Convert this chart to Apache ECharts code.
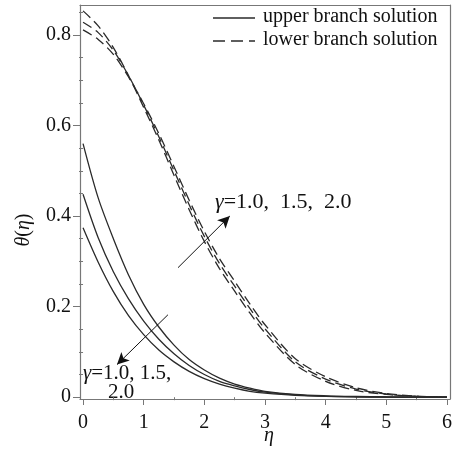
<!DOCTYPE html>
<html>
<head>
<meta charset="utf-8">
<script src="https://cdn.jsdelivr.net/npm/echarts@6/dist/echarts.min.js"></script>
<style>html,body{margin:0;padding:0;background:#fff}#c{width:461px;height:455px}</style>
</head>
<body>
<div id="c"></div>
<script>
// eta grid
const eta = [0,0.25,0.5,0.75,1,1.25,1.5,1.75,2,2.25,2.5,2.75,3,3.5,4,4.5,5,5.5,6];
// upper branch (solid), gamma = 1.0, 1.5, 2.0
const upper1 = [0.56,0.44,0.35,0.27,0.205,0.155,0.115,0.083,0.06,0.042,0.029,0.02,0.013,0.006,0.003,0.0015,0.0006,0.0002,0];
const upper2 = [0.448,0.352,0.277,0.217,0.168,0.128,0.096,0.070,0.050,0.035,0.025,0.017,0.011,0.005,0.0022,0.001,0.0004,0.0001,0];
const upper3 = [0.374,0.298,0.233,0.180,0.138,0.104,0.078,0.057,0.041,0.029,0.020,0.013,0.009,0.004,0.0016,0.0007,0.0003,0.0001,0];
// lower branch (dashed)
const lower1 = [0.853,0.82,0.772,0.71,0.64,0.568,0.49,0.414,0.344,0.284,0.234,0.186,0.142,0.072,0.035,0.015,0.006,0.002,0];
const lower2 = [0.828,0.805,0.766,0.71,0.645,0.575,0.5,0.425,0.355,0.295,0.245,0.196,0.151,0.078,0.04,0.018,0.007,0.002,0];
const lower3 = [0.811,0.79,0.757,0.707,0.648,0.582,0.509,0.435,0.366,0.306,0.256,0.206,0.16,0.085,0.045,0.021,0.008,0.0025,0];
// ticks
const xTicks = [0,1,2,3,4,5,6];
const xMinor = [0.5,1.5,2.5,3.5,4.5,5.5];
const yTicks = [0,0.2,0.4,0.6,0.8];
const yMinor = [0.05,0.1,0.15,0.25,0.3,0.35,0.45,0.5,0.55,0.65,0.7,0.75,0.85];
// annotation arrows (data coords)
const arrowUp = [[1.566,0.286],[2.42,0.400]];
const arrowDown = [[1.40,0.182],[0.56,0.072]];
const legendNames = ['upper branch solution','lower branch solution'];
const upperLabel = '{i|γ}=1.0,  1.5,  2.0';
const lowerLabel1 = '{i|γ}=1.0, 1.5,';
const lowerLabel2 = '2.0';
const yTitle = '{i|θ}({i|η})';
const xTitle = 'η';

const FONT = '"Liberation Serif", "DejaVu Serif", serif';
const INK = '#2a2a2a';
const AXC = '#777';

function mk(v){ return eta.map((e,i)=>[e,v[i]]); }
function solid(name, v){ return {type:'line', name, data:mk(v), smooth:0.3, symbol:'none', showSymbol:false, lineStyle:{color:INK,width:1.3,type:'solid'}, itemStyle:{color:INK}, z:3}; }
function dashed(name, v){ return {type:'line', name, data:mk(v), smooth:0.3, symbol:'none', showSymbol:false, lineStyle:{color:INK,width:1.3,type:[10,5]}, itemStyle:{color:INK}, z:3}; }

const chart = echarts.init(document.getElementById('c'), null, {renderer:'canvas'});
const xmin=-0.05, xmax=6.05, ymin=-0.004, ymax=0.866;

function arrowLine(p){
  return {type:'line', data:[], silent:true, markLine:{silent:true, symbol:['none','arrow'], symbolSize:[9,12],
    label:{show:false}, lineStyle:{color:'#111', width:1, type:'solid'},
    data:[[{coord:p[0]},{coord:p[1]}]]}};
}
const frameAxis = (pos) => ({type:'value', min: pos==='top'?xmin:ymin, max: pos==='top'?xmax:ymax, position:pos,
  axisLine:{show:true, onZero:false, lineStyle:{color:AXC,width:1.2}}, axisTick:{show:false}, axisLabel:{show:false}, splitLine:{show:false}});

const rich = {i:{fontFamily:FONT, fontStyle:'italic', fontSize:21, fill:'#111'}};

chart.setOption({
  animation:false,
  grid: {left:80, right:11, top:5, bottom:56, containLabel:false, outerBoundsMode:'none'},
  xAxis:[{
    type:'value', min:xmin, max:xmax, position:'bottom',
    axisLine:{show:true, onZero:false, lineStyle:{color:AXC,width:1.2}},
    axisTick:{show:true, length:6, customValues:xTicks, lineStyle:{color:AXC}},
    axisLabel:{show:true, customValues:xTicks, margin:14, fontFamily:FONT, fontSize:20, color:'#111'},
    splitLine:{show:false}
  },{
    type:'value', min:xmin, max:xmax, position:'bottom',
    axisLine:{show:false}, axisTick:{show:true, length:3, customValues:xMinor, lineStyle:{color:AXC}},
    axisLabel:{show:false}, splitLine:{show:false}
  }, frameAxis('top')],
  yAxis:[{
    type:'value', min:ymin, max:ymax, position:'left',
    axisLine:{show:true, onZero:false, lineStyle:{color:AXC,width:1.2}},
    axisTick:{show:true, length:7, customValues:yTicks, lineStyle:{color:AXC}},
    axisLabel:{show:true, customValues:yTicks, margin:9, fontFamily:FONT, fontSize:20, color:'#111',
      formatter:v=> (Math.abs(v)<1e-9 ? '0' : v.toFixed(1))},
    splitLine:{show:false}
  },{
    type:'value', min:ymin, max:ymax, position:'left',
    axisLine:{show:false}, axisTick:{show:true, length:4, customValues:yMinor, lineStyle:{color:AXC}},
    axisLabel:{show:false}, splitLine:{show:false}
  }, frameAxis('right')],
  series:[
    solid(legendNames[0], upper1),
    solid(legendNames[0], upper2),
    solid(legendNames[0], upper3),
    dashed(legendNames[1], lower1),
    dashed(legendNames[1], lower2),
    dashed(legendNames[1], lower3),
    arrowLine(arrowUp),
    arrowLine(arrowDown)
  ],
  graphic:[
    {type:'line', shape:{x1:213, y1:18, x2:255, y2:18}, style:{stroke:INK, lineWidth:1.3}},
    {type:'line', shape:{x1:213, y1:41, x2:255, y2:41}, style:{stroke:INK, lineWidth:1.3, lineDash:[12,6]}},
    {type:'text', left:263, top:7, style:{text:legendNames[0], fill:'#111', font:'20px '+FONT}},
    {type:'text', left:263, top:30, style:{text:legendNames[1], fill:'#111', font:'20px '+FONT}},
    {type:'text', x:24, y:230, rotation:Math.PI/2, style:{text:yTitle, fill:'#111', font:'20px '+FONT, align:'center', verticalAlign:'middle',
      rich:{i:{fontFamily:FONT, fontStyle:'italic', fontSize:20, fill:'#111'}}}},
    {type:'text', x:269, y:436, style:{text:xTitle, fill:'#111', font:'italic 20px '+FONT, align:'center', verticalAlign:'middle'}},
    {type:'text', left:215, top:191, style:{text:upperLabel, fill:'#111', font:'22px '+FONT, rich:{i:{fontFamily:FONT, fontStyle:'italic', fontSize:22, fill:'#111'}}}},
    {type:'text', left:83, top:363, style:{text:lowerLabel1, fill:'#111', font:'21px '+FONT, rich}},
    {type:'text', left:108, top:382, style:{text:lowerLabel2, fill:'#111', font:'21px '+FONT}}
  ]
});
</script>
</body>
</html>
